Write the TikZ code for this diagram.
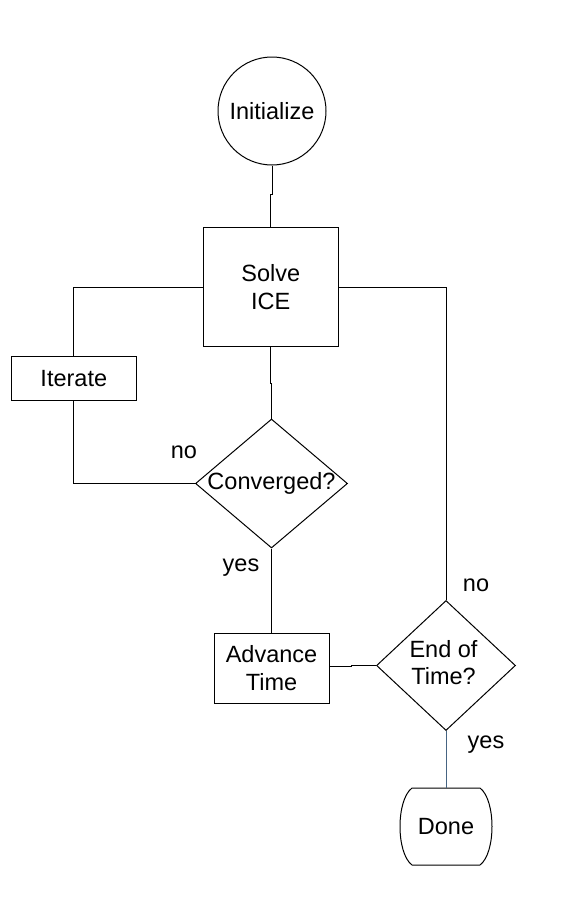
\documentclass[tikz,border=0pt]{standalone}
\usepackage{fontspec}
\setmainfont{Liberation Sans}
\usetikzlibrary{shapes.geometric}
\definecolor{doneline}{RGB}{70,100,130}
\begin{document}
\begin{tikzpicture}[x=1pt,y=-1pt,
  every node/.style={font=\fontsize{23.5}{28}\selectfont, inner sep=0pt},
  boxnode/.style={draw, line width=1pt, rectangle, align=center},
  decision/.style={draw, line width=1pt, diamond},
  conn/.style={line width=1pt},
  lbl/.style={}]
\useasboundingbox (0,0) rectangle (573,910);
\node[draw, line width=1pt, circle, minimum size=108pt] (init) at (272,111) {Initialize};
\node[boxnode, minimum width=135pt, minimum height=119pt] (solve) at (270.8,287) {Solve\\ICE};
\node[boxnode, minimum width=125pt, minimum height=44pt] (iter) at (73.8,378.3) {Iterate};
\node[decision, minimum width=152pt, minimum height=129pt] (conv) at (271.5,483.5) {\makebox[0pt]{Converged?}};
\node[boxnode, minimum width=115pt, minimum height=70pt] (adv) at (271.5,668) {Advance\\Time};
\node[decision, minimum width=139pt, minimum height=130pt] (eot) at (446,665.5) {\makebox[0pt]{\hspace*{-5pt}\begin{tabular}{@{}c@{}}End of\\[-1pt]Time?\end{tabular}}};
\node (done) at (446,827) {Done};
\coordinate (donetop) at (446,788);
\draw[conn] (412,788) -- (480,788) .. controls (496,800) and (496,853) .. (480,865) -- (412,865) .. controls (396,853) and (396,800) .. (412,788) -- cycle;
\node[lbl] (no1) at (184,452) {no};
\node[lbl] (yes1) at (241,568) {yes};
\node[lbl] (no2) at (476,585) {no};
\node[lbl] (yes2) at (486,745) {yes};
\draw[conn] (init.south) -- ++(0,29) -| (solve.north);
\draw[conn] (solve.south) -- ++(0,36) -| (conv.north);
\draw[conn] (solve.west) -| (iter.north);
\draw[conn] (iter.south) |- (conv.west);
\draw[conn] (solve.east) -| (eot.north);
\draw[conn] (conv.south) -- (adv.north);
\draw[conn] ([yshift=2pt]adv.east) -- ++(22,0) |- (eot.west);
\draw[conn, doneline] (eot.south) -- (donetop);
\end{tikzpicture}
\end{document}
